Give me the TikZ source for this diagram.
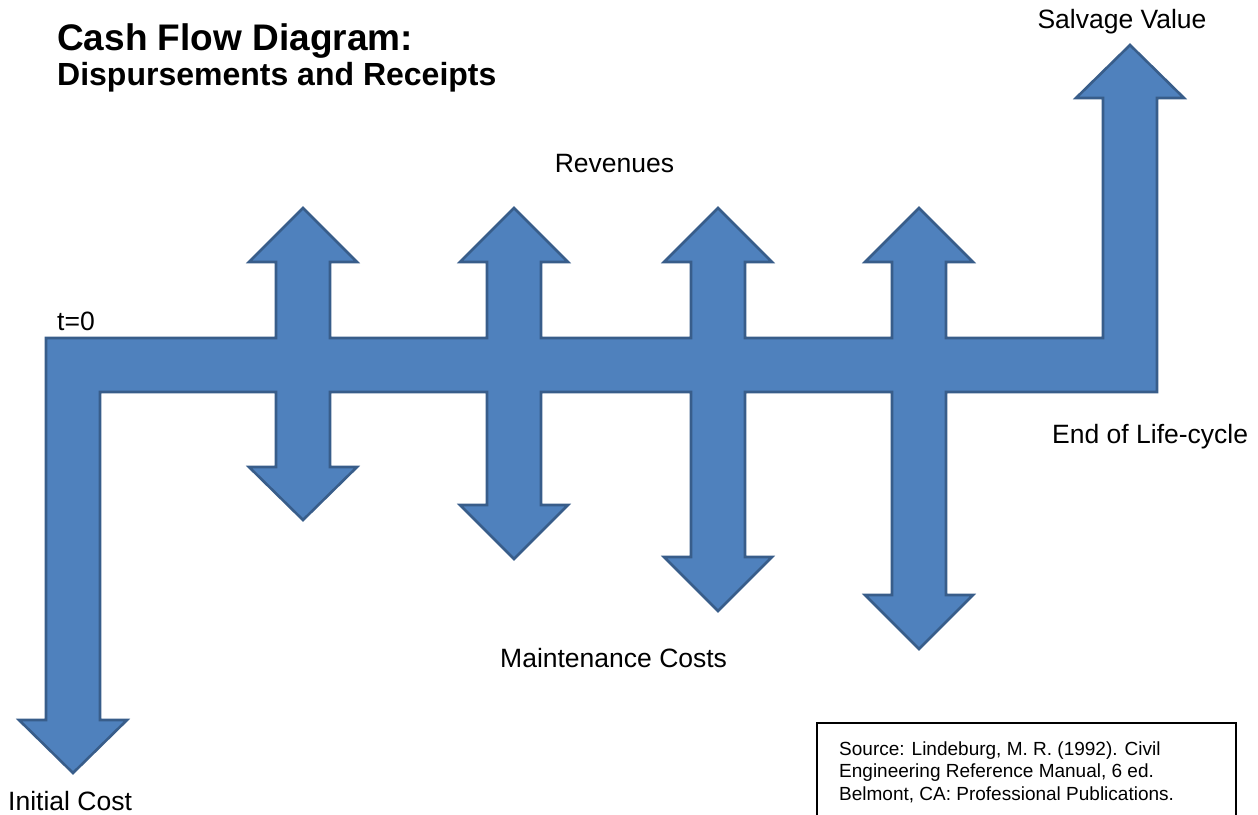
\documentclass[tikz,border=0pt]{standalone}
\usepackage{fontspec}
\setmainfont{Liberation Sans}
\definecolor{arrowfill}{HTML}{4F81BD}
\definecolor{arrowline}{HTML}{385D8A}
\tikzset{
  flowshape/.style={fill=arrowfill, draw=arrowline, line width=2.6pt, line join=miter},
  lbl/.style={inner sep=0pt, anchor=base west, font=\fontsize{26.5}{31}\selectfont},
  lblc/.style={inner sep=0pt, anchor=base, font=\fontsize{26.5}{31}\selectfont},
}
\begin{document}
\begin{tikzpicture}[x=1pt, y=-1pt]
\useasboundingbox (0,0) rectangle (1258,814);
% whole cash-flow shape as one outline
\draw[flowshape]
  (46,338)
  -- (276,338) -- (276,262) -- (249,262) -- (303,208) -- (357,262) -- (330,262) -- (330,338)
  -- (487,338) -- (487,262) -- (460,262) -- (514,208) -- (568,262) -- (541,262) -- (541,338)
  -- (691,338) -- (691,262) -- (664,262) -- (718,208) -- (772,262) -- (745,262) -- (745,338)
  -- (892,338) -- (892,262) -- (865,262) -- (919,208) -- (973,262) -- (946,262) -- (946,338)
  -- (1103,338) -- (1103,98) -- (1076,98) -- (1130,45) -- (1184,98) -- (1157,98) -- (1157,392)
  -- (946,392) -- (946,595) -- (973,595) -- (919,649) -- (865,595) -- (892,595) -- (892,392)
  -- (745,392) -- (745,557) -- (772,557) -- (718,611) -- (664,557) -- (691,557) -- (691,392)
  -- (541,392) -- (541,505) -- (568,505) -- (514,559) -- (460,505) -- (487,505) -- (487,392)
  -- (330,392) -- (330,467) -- (357,467) -- (303,520) -- (249,467) -- (276,467) -- (276,392)
  -- (100,392) -- (100,720) -- (127,720) -- (73,773) -- (19,720) -- (46,720) -- cycle;
% titles
\node[inner sep=0pt, anchor=base west, font=\bfseries\fontsize{37}{44}\selectfont] (title) at (57,50) {Cash Flow Diagram:};
\node[inner sep=0pt, anchor=base west, font=\bfseries\fontsize{32}{38}\selectfont] (subtitle) at (57,85) {Dispursements and Receipts};
% labels
\node[lblc] (salvage) at (1122,28) {Salvage Value};
\node[lblc] (revenues) at (614.5,172) {Revenues};
\node[lbl] (t0) at (57,330) {t=0};
\node[lbl] (endlife) at (1052,443) {End of Life-cycle};
\node[lbl] (maint) at (500,667) {Maintenance Costs};
\node[lbl] (initial) at (8,810) {Initial Cost};
% source box
\draw[line width=2pt] (817,816) -- (817,723) -- (1236,723) -- (1236,816);
\node[inner sep=0pt, anchor=base west, align=left, font=\fontsize{19}{22.5}\selectfont] (source) at (839,800)
  {Source: Lindeburg, M. R. (1992). Civil\\Engineering Reference Manual, 6 ed.\\Belmont, CA: Professional Publications.};
\end{tikzpicture}
\end{document}
